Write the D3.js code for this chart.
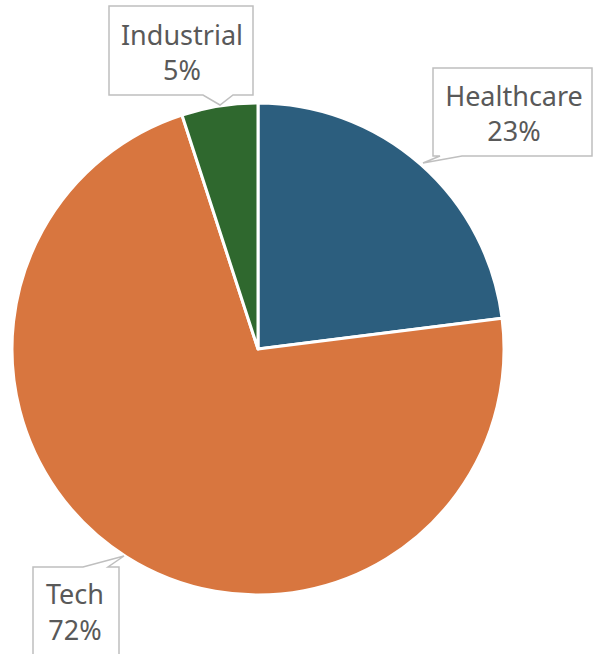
<!DOCTYPE html>
<html><head><meta charset="utf-8">
<script src="https://cdn.jsdelivr.net/npm/d3@7"></script>
<style>html,body{margin:0;padding:0;background:#fff;}svg{display:block;}</style>
</head><body>
<script>
const categories = ["Healthcare", "Tech", "Industrial"];
const values = [23, 72, 5];
const colors = ["#2C5E7E", "#D8763F", "#2F682E"];

const W = 595, H = 654;
const cx = 258, cy = 349, R = 246;

const svg = d3.select("body").append("svg").attr("width", W).attr("height", H);

const pie = d3.pie().sort(null).value(d => d)(values);
const arc = d3.arc().innerRadius(0).outerRadius(R);
const g = svg.append("g").attr("transform", `translate(${cx},${cy})`);
g.selectAll("path").data(pie).join("path")
  .attr("d", arc)
  .attr("fill", (d, i) => colors[i])
  .attr("stroke", "#fff").attr("stroke-width", 3).attr("stroke-linejoin", "round");

const total = d3.sum(values);
const fmt = v => Math.round(v / total * 100) + "%";

const callouts = [
  { i: 0, box: [433, 68, 592, 156], ptr: [[462,156],[423,163],[440,156]], tx: 514, y1: 106, y2: 141 },
  { i: 1, box: [33, 567, 119, 670], ptr: [[83,567],[124,556],[108,567]], tx: 75, y1: 604, y2: 640 },
  { i: 2, box: [109, 6, 253, 95], ptr: [[233,95],[220,105],[203,95]], tx: 182, y1: 45, y2: 80 }
];

callouts.forEach(c => {
  const [x0, y0, x1, y1] = c.box;
  let pts;
  if (c.i === 1) {
    pts = [[x0,y0], c.ptr[0], c.ptr[1], c.ptr[2], [x1,y0], [x1,y1], [x0,y1]];
  } else {
    pts = [[x0,y0], [x1,y0], [x1,y1], c.ptr[0], c.ptr[1], c.ptr[2], [x0,y1]];
  }
  svg.append("path")
    .attr("d", d3.line()(pts) + "Z")
    .attr("fill", "#fff").attr("stroke", "#BFBFBF").attr("stroke-width", 1.5);
  const t = svg.append("text").attr("text-anchor", "middle")
    .attr("font-family", "'Noto Sans', 'Open Sans', sans-serif")
    .attr("font-size", 27).attr("fill", "#595959");
  t.append("tspan").attr("x", c.tx).attr("y", c.y1).text(categories[c.i]);
  t.append("tspan").attr("x", c.tx).attr("y", c.y2).text(fmt(values[c.i]));
});
</script>
</body></html>
